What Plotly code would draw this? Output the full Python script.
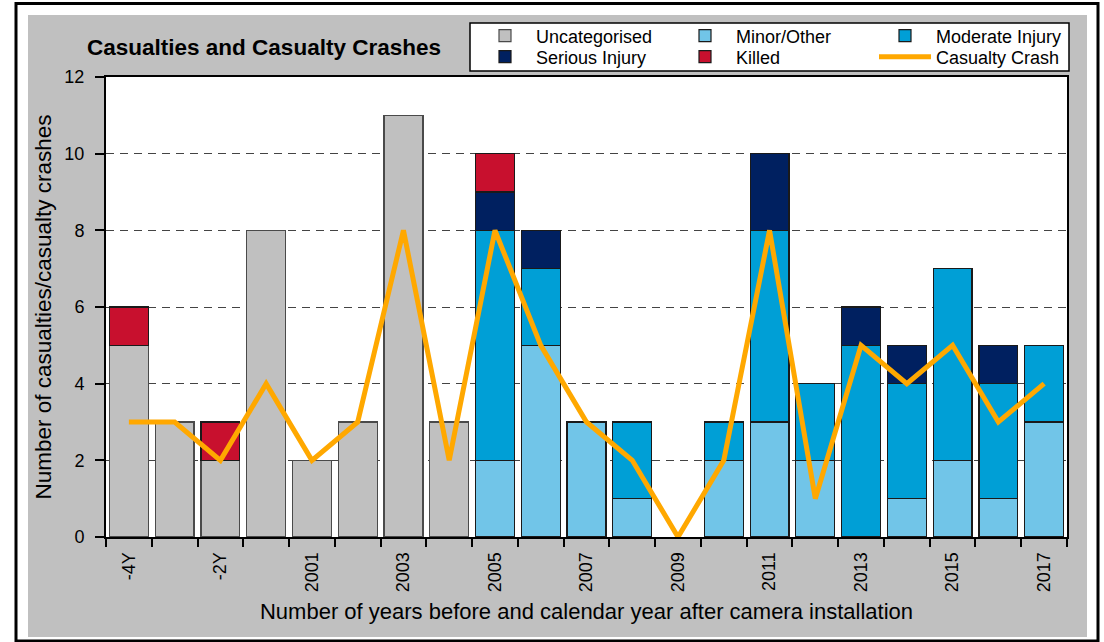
import plotly.graph_objects as go

categories = ["-4Y", "-3Y", "-2Y", "-1Y", "2001", "2002", "2003", "2004", "2005", "2006",
              "2007", "2008", "2009", "2010", "2011", "2012", "2013", "2014", "2015", "2016", "2017"]
tick_labels = [c if i % 2 == 0 else "" for i, c in enumerate(categories)]

uncategorised = [5, 3, 2, 8, 2, 3, 11, 3, None, None, None, None, None, None, None, None, None, None, None, None, None]
minor_other = [None, None, None, None, None, None, None, None, 2, 5, 3, 1, None, 2, 3, 2, None, 1, 2, 1, 3]
moderate = [None, None, None, None, None, None, None, None, 6, 2, None, 2, None, 1, 5, 2, 5, 3, 5, 3, 2]
serious = [None, None, None, None, None, None, None, None, 1, 1, None, None, None, None, 2, None, 1, 1, None, 1, None]
killed = [1, None, 1, None, None, None, None, None, 1, None, None, None, None, None, None, None, None, None, None, None, None]
casualty_crash = [3, 3, 2, 4, 2, 3, 8, 2, 8, 5, 3, 2, 0, 2, 8, 1, 5, 4, 5, 3, 4]

FONT = "Liberation Sans, Arial, sans-serif"
W, H = 1104, 642
L, R, T, B = 106, 37, 77, 105
PW, PH = W - L - R, H - T - B

def xp(px):
    return (px - L) / PW

def yp(py):
    return (H - B - py) / PH

fig = go.Figure()
bar_specs = [
    ("Uncategorised", uncategorised, "#C0C0C0", "#4A4A4A", "legend"),
    ("Minor/Other", minor_other, "#71C5E8", "#1a1a1a", "legend"),
    ("Moderate Injury", moderate, "#009FD6", "#1a1a1a", "legend"),
    ("Serious Injury", serious, "#002060", "#1a1a1a", "legend2"),
    ("Killed", killed, "#C8102E", "#1a1a1a", "legend2"),
]
for name, vals, col, lc, lg in bar_specs:
    fig.add_trace(go.Bar(x=categories, y=vals, name=name, legend=lg,
                         marker=dict(color=col, line=dict(color=lc, width=1.2))))
fig.add_trace(go.Scatter(x=categories, y=casualty_crash, name="Casualty Crash", legend="legend2",
                         mode="lines", line=dict(color="#FFA800", width=5)))

legend_common = dict(orientation="h", xref="container", yref="container",
                     xanchor="left", yanchor="middle", bgcolor="rgba(0,0,0,0)",
                     borderwidth=0, itemwidth=52, entrywidth=133, traceorder="normal",
                     font=dict(family=FONT, size=18, color="black"))

fig.update_layout(
    width=W, height=H,
    margin=dict(l=L, r=R, t=T, b=B, autoexpand=False),
    paper_bgcolor="white", plot_bgcolor="white",
    barmode="stack", bargap=0.15,
    font=dict(family=FONT, size=18, color="black"),
    title=dict(text="<b>Casualties and Casualty Crashes</b>", x=264 / W, xref="container",
               xanchor="center", y=1 - 47 / H, yref="container", yanchor="middle",
               font=dict(family=FONT, size=22.5, color="black")),
    legend=dict(x=474 / W, y=1 - 36 / H, **legend_common),
    legend2=dict(x=474 / W, y=1 - 57 / H, **legend_common),
    showlegend=True,
    xaxis=dict(type="category", tickvals=categories, ticktext=tick_labels, tickangle=-90,
               tickson="boundaries", ticks="outside", ticklen=8, tickwidth=2, tickcolor="black",
               ticklabelstandoff=6,
               showline=True, linecolor="black", linewidth=2, mirror=True, showgrid=False,
               tickfont=dict(family=FONT, size=18),
               title=dict(text="Number of years before and calendar year after camera installation",
                          font=dict(family=FONT, size=22), standoff=12)),
    yaxis=dict(range=[0, 12], dtick=2, ticks="outside", ticklen=9, tickwidth=2, tickcolor="black",
               ticklabelstandoff=7,
               showline=True, linecolor="black", linewidth=2, mirror=True,
               showgrid=True, gridcolor="#444444", gridwidth=1.2, griddash="8px,6px",
               zeroline=False, tickfont=dict(family=FONT, size=18),
               title=dict(text="Number of casualties/casualty crashes",
                          font=dict(family=FONT, size=22.5), standoff=6)),
    shapes=[
        dict(type="rect", xref="paper", yref="paper", layer="below",
             x0=xp(28), x1=xp(1087), y0=yp(637), y1=yp(15),
             fillcolor="#C0C0C0", line=dict(width=0)),
        dict(type="rect", xref="paper", yref="paper", layer="below",
             x0=0, x1=1, y0=0, y1=1,
             fillcolor="white", line=dict(width=0)),
        dict(type="rect", xref="paper", yref="paper", layer="below",
             x0=xp(16), x1=xp(1098), y0=yp(641), y1=yp(3.5),
             fillcolor="rgba(0,0,0,0)", line=dict(color="black", width=3)),
        dict(type="rect", xref="paper", yref="paper", layer="below",
             x0=xp(470), x1=xp(1069), y0=yp(71), y1=yp(23),
             fillcolor="white", line=dict(color="black", width=1.5)),
    ],
)

fig.write_html("out.html", config={"displayModeBar": False},
               post_script="document.body.style.margin='0';")
